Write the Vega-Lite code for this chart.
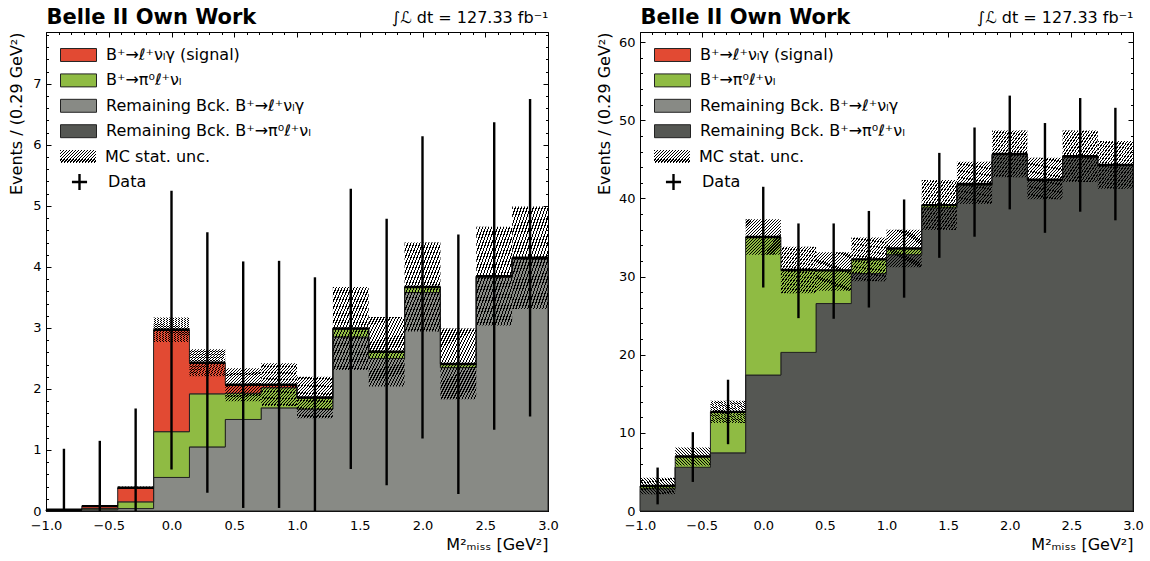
{
  "$schema": "https://vega.github.io/schema/vega-lite/v6.json",
  "padding": {"left": 8, "top": 6, "right": 4, "bottom": 4},
  "spacing": 37,
  "config": {
    "font": "DejaVu Sans",
    "view": {"stroke": null},
    "axis": {"grid": false, "labelColor": "#000", "titleColor": "#000", "tickColor": "#000", "domainColor": "#000", "titleFontWeight": "normal", "labelFont": "DejaVu Sans", "titleFont": "DejaVu Sans", "labelFlush": false, "labelOverlap": false},
    "legend": {"orient": "none", "padding": 0, "title": null, "labelFont": "DejaVu Sans", "labelFontSize": 16, "labelColor": "#000", "labelOffset": 9, "labelLimit": 500, "symbolSize": 1296, "symbolOpacity": 1, "clipHeight": 20, "rowPadding": 5.4}
  },
  "datasets": {
    "compL": [
      {"k":"rbg","o":1,"x":-1,"v":0.02},{"k":"rbg","o":1,"x":-0.7143,"v":0.02},{"k":"rbg","o":1,"x":-0.4286,"v":0.04},{"k":"rbg","o":1,"x":-0.1429,"v":0.55},{"k":"rbg","o":1,"x":0.1429,"v":1.05},{"k":"rbg","o":1,"x":0.4286,"v":1.5},{"k":"rbg","o":1,"x":0.7143,"v":1.69},{"k":"rbg","o":1,"x":1,"v":1.67},{"k":"rbg","o":1,"x":1.2857,"v":2.85},{"k":"rbg","o":1,"x":1.5714,"v":2.5},{"k":"rbg","o":1,"x":1.8571,"v":3.58},{"k":"rbg","o":1,"x":2.1429,"v":2.35},{"k":"rbg","o":1,"x":2.4286,"v":3.83},{"k":"rbg","o":1,"x":2.7143,"v":4.13},{"k":"rbg","o":1,"x":3,"v":4.13},
      {"k":"pi0","o":2,"x":-1,"v":0},{"k":"pi0","o":2,"x":-0.7143,"v":0.02},{"k":"pi0","o":2,"x":-0.4286,"v":0.11},{"k":"pi0","o":2,"x":-0.1429,"v":0.75},{"k":"pi0","o":2,"x":0.1429,"v":0.87},{"k":"pi0","o":2,"x":0.4286,"v":0.43},{"k":"pi0","o":2,"x":0.7143,"v":0.33},{"k":"pi0","o":2,"x":1,"v":0.18},{"k":"pi0","o":2,"x":1.2857,"v":0.14},{"k":"pi0","o":2,"x":1.5714,"v":0.11},{"k":"pi0","o":2,"x":1.8571,"v":0.09},{"k":"pi0","o":2,"x":2.1429,"v":0.06},{"k":"pi0","o":2,"x":2.4286,"v":0.02},{"k":"pi0","o":2,"x":2.7143,"v":0.02},{"k":"pi0","o":2,"x":3,"v":0.02},
      {"k":"sig","o":3,"x":-1,"v":0},{"k":"sig","o":3,"x":-0.7143,"v":0.04},{"k":"sig","o":3,"x":-0.4286,"v":0.23},{"k":"sig","o":3,"x":-0.1429,"v":1.67},{"k":"sig","o":3,"x":0.1429,"v":0.51},{"k":"sig","o":3,"x":0.4286,"v":0.14},{"k":"sig","o":3,"x":0.7143,"v":0.05},{"k":"sig","o":3,"x":1,"v":0.01},{"k":"sig","o":3,"x":1.2857,"v":0},{"k":"sig","o":3,"x":1.5714,"v":0},{"k":"sig","o":3,"x":1.8571,"v":0},{"k":"sig","o":3,"x":2.1429,"v":0},{"k":"sig","o":3,"x":2.4286,"v":0},{"k":"sig","o":3,"x":2.7143,"v":0},{"k":"sig","o":3,"x":3,"v":0}
    ],
    "compR": [
      {"k":"rbp","o":1,"x":-1,"v":2.85},{"k":"rbp","o":1,"x":-0.7143,"v":5.6},{"k":"rbp","o":1,"x":-0.4286,"v":7.44},{"k":"rbp","o":1,"x":-0.1429,"v":17.4},{"k":"rbp","o":1,"x":0.1429,"v":20.3},{"k":"rbp","o":1,"x":0.4286,"v":26.55},{"k":"rbp","o":1,"x":0.7143,"v":30.38},{"k":"rbp","o":1,"x":1,"v":32.8},{"k":"rbp","o":1,"x":1.2857,"v":38.8},{"k":"rbp","o":1,"x":1.5714,"v":41.7},{"k":"rbp","o":1,"x":1.8571,"v":45.6},{"k":"rbp","o":1,"x":2.1429,"v":42.3},{"k":"rbp","o":1,"x":2.4286,"v":45.3},{"k":"rbp","o":1,"x":2.7143,"v":44.2},{"k":"rbp","o":1,"x":3,"v":44.2},
      {"k":"pi0","o":2,"x":-1,"v":0.35},{"k":"pi0","o":2,"x":-0.7143,"v":1.37},{"k":"pi0","o":2,"x":-0.4286,"v":5.25},{"k":"pi0","o":2,"x":-0.1429,"v":17.66},{"k":"pi0","o":2,"x":0.1429,"v":10.55},{"k":"pi0","o":2,"x":0.4286,"v":4.25},{"k":"pi0","o":2,"x":0.7143,"v":1.82},{"k":"pi0","o":2,"x":1,"v":0.8},{"k":"pi0","o":2,"x":1.2857,"v":0.35},{"k":"pi0","o":2,"x":1.5714,"v":0.15},{"k":"pi0","o":2,"x":1.8571,"v":0.1},{"k":"pi0","o":2,"x":2.1429,"v":0.1},{"k":"pi0","o":2,"x":2.4286,"v":0.1},{"k":"pi0","o":2,"x":2.7143,"v":0.1},{"k":"pi0","o":2,"x":3,"v":0.1}
    ],
    "binsL": [
      {"lo":-1,"hi":-0.7143,"c":-0.8571,"ulo":0.01,"uhi":0.03,"d":0.02,"dlo":-0.98,"dhi":1.02},
      {"lo":-0.7143,"hi":-0.4286,"c":-0.5714,"ulo":0.07,"uhi":0.09,"d":0.08,"dlo":-0.99,"dhi":1.15},
      {"lo":-0.4286,"hi":-0.1429,"c":-0.2857,"ulo":0.36,"uhi":0.4,"d":0.38,"dlo":-0.92,"dhi":1.68},
      {"lo":-0.1429,"hi":0.1429,"c":0,"ulo":2.77,"uhi":3.17,"d":2.97,"dlo":0.68,"dhi":5.25},
      {"lo":0.1429,"hi":0.4286,"c":0.2857,"ulo":2.21,"uhi":2.65,"d":2.43,"dlo":0.3,"dhi":4.57},
      {"lo":0.4286,"hi":0.7143,"c":0.5714,"ulo":1.8,"uhi":2.34,"d":2.07,"dlo":0.05,"dhi":4.09},
      {"lo":0.7143,"hi":1,"c":0.8571,"ulo":1.72,"uhi":2.42,"d":2.07,"dlo":0.05,"dhi":4.1},
      {"lo":1,"hi":1.2857,"c":1.1429,"ulo":1.52,"uhi":2.2,"d":1.86,"dlo":-0.11,"dhi":3.83},
      {"lo":1.2857,"hi":1.5714,"c":1.4286,"ulo":2.31,"uhi":3.67,"d":2.99,"dlo":0.69,"dhi":5.28},
      {"lo":1.5714,"hi":1.8571,"c":1.7143,"ulo":2.04,"uhi":3.18,"d":2.61,"dlo":0.42,"dhi":4.79},
      {"lo":1.8571,"hi":2.1429,"c":2,"ulo":2.94,"uhi":4.4,"d":3.67,"dlo":1.19,"dhi":6.14},
      {"lo":2.1429,"hi":2.4286,"c":2.2857,"ulo":1.83,"uhi":2.99,"d":2.41,"dlo":0.28,"dhi":4.53},
      {"lo":2.4286,"hi":2.7143,"c":2.5714,"ulo":3.04,"uhi":4.66,"d":3.85,"dlo":1.33,"dhi":6.37},
      {"lo":2.7143,"hi":3,"c":2.8571,"ulo":3.31,"uhi":4.99,"d":4.15,"dlo":1.55,"dhi":6.75}
    ],
    "binsR": [
      {"lo":-1,"hi":-0.7143,"c":-0.8571,"ulo":2.13,"uhi":4.27,"d":3.2,"dlo":0.85,"dhi":5.56},
      {"lo":-0.7143,"hi":-0.4286,"c":-0.5714,"ulo":5.82,"uhi":8.12,"d":6.97,"dlo":3.72,"dhi":10.09},
      {"lo":-0.4286,"hi":-0.1429,"c":-0.2857,"ulo":11.27,"uhi":14.11,"d":12.69,"dlo":8.55,"dhi":16.8},
      {"lo":-0.1429,"hi":0.1429,"c":0,"ulo":32.79,"uhi":37.33,"d":35.06,"dlo":28.6,"dhi":41.49},
      {"lo":0.1429,"hi":0.4286,"c":0.2857,"ulo":27.87,"uhi":33.83,"d":30.85,"dlo":24.68,"dhi":36.8},
      {"lo":0.4286,"hi":0.7143,"c":0.5714,"ulo":28.2,"uhi":33.1,"d":30.8,"dlo":24.6,"dhi":36.8},
      {"lo":0.7143,"hi":1,"c":0.8571,"ulo":29.4,"uhi":35,"d":32.2,"dlo":26.04,"dhi":38.4},
      {"lo":1,"hi":1.2857,"c":1.1429,"ulo":31.2,"uhi":36,"d":33.6,"dlo":27.3,"dhi":39.87},
      {"lo":1.2857,"hi":1.5714,"c":1.4286,"ulo":35.95,"uhi":42.35,"d":39.15,"dlo":32.4,"dhi":45.83},
      {"lo":1.5714,"hi":1.8571,"c":1.7143,"ulo":39.3,"uhi":44.7,"d":41.85,"dlo":35.1,"dhi":49.08},
      {"lo":1.8571,"hi":2.1429,"c":2,"ulo":42.7,"uhi":48.7,"d":45.7,"dlo":38.6,"dhi":53.16},
      {"lo":2.1429,"hi":2.4286,"c":2.2857,"ulo":39.9,"uhi":45.2,"d":42.4,"dlo":35.6,"dhi":49.65},
      {"lo":2.4286,"hi":2.7143,"c":2.5714,"ulo":42.1,"uhi":48.7,"d":45.4,"dlo":38.3,"dhi":52.85},
      {"lo":2.7143,"hi":3,"c":2.8571,"ulo":41.25,"uhi":47.35,"d":44.3,"dlo":37.2,"dhi":51.6}
    ]
  },
  "resolve": {"scale": {"x": "independent", "y": "independent", "fill": "independent", "shape": "independent"}, "legend": {"fill": "independent", "shape": "independent"}},
  "hconcat": [
    {
      "width": 502,
      "height": 479,
      "resolve": {"axis": {"x": "independent", "y": "independent"}, "scale": {"shape": "independent"}, "legend": {"shape": "independent"}},
      "layer": [
        {
          "data": {"name": "compL"},
          "mark": {"type": "area", "interpolate": "step-after", "stroke": "#222", "strokeWidth": 1, "opacity": 1, "fillOpacity": 1},
          "encoding": {
            "x": {"field": "x", "type": "quantitative", "scale": {"domain": [-1, 3], "nice": false, "zero": false},
              "axis": {"orient": "bottom", "values": [-1, -0.5, 0, 0.5, 1, 1.5, 2, 2.5, 3], "format": ".1f", "tickSize": -5, "tickWidth": 1, "labelPadding": 13, "labelFontSize": 13, "domainWidth": 1, "title": "M²ₘᵢₛₛ [GeV²]", "titleAnchor": "end", "titleFontSize": 16, "titlePadding": 4}},
            "y": {"field": "v", "type": "quantitative", "stack": "zero", "scale": {"domain": [0, 7.85], "nice": false},
              "axis": {"orient": "left", "values": [0, 1, 2, 3, 4, 5, 6, 7], "format": "d", "tickSize": -5, "tickWidth": 1, "labelPadding": 10, "labelFontSize": 13, "domainWidth": 1, "title": "Events / (0.29 GeV²)", "titleAnchor": "end", "titleFontSize": 16, "titlePadding": 8}},
            "fill": {"field": "k", "type": "nominal",
              "scale": {"domain": ["sig", "pi0", "rbg", "rbp"], "range": ["#e24a33", "#8fbb43", "#888a85", "#555753"]},
              "legend": {
                "legendX": 14, "legendY": 13,
                "labelExpr": "datum.value == 'sig' ? 'B⁺→ℓ⁺νₗγ (signal)' : datum.value == 'pi0' ? 'B⁺→π⁰ℓ⁺νₗ' : datum.value == 'rbg' ? 'Remaining Bck. B⁺→ℓ⁺νₗγ' : 'Remaining Bck. B⁺→π⁰ℓ⁺νₗ'",
                "symbolType": "M-1,-0.36H1V0.36H-1Z", "symbolStrokeColor": "#222", "symbolStrokeWidth": 1
              }},
            "order": {"field": "o", "type": "quantitative"}
          }
        },
        {
          "data": {"name": "binsL"},
          "mark": {"type": "rect", "strokeWidth": 0, "fill": {"gradient": "linear", "x1": 0, "y1": 0, "x2": 1, "y2": 1, "stops": [
            {"offset":0,"color":"#000"},{"offset":0.0167,"color":"#000"},{"offset":0.0167,"color":"rgba(0,0,0,0)"},{"offset":0.0417,"color":"rgba(0,0,0,0)"},
            {"offset":0.0417,"color":"#000"},{"offset":0.0583,"color":"#000"},{"offset":0.0583,"color":"rgba(0,0,0,0)"},{"offset":0.0833,"color":"rgba(0,0,0,0)"},
            {"offset":0.0833,"color":"#000"},{"offset":0.1,"color":"#000"},{"offset":0.1,"color":"rgba(0,0,0,0)"},{"offset":0.125,"color":"rgba(0,0,0,0)"},
            {"offset":0.125,"color":"#000"},{"offset":0.1417,"color":"#000"},{"offset":0.1417,"color":"rgba(0,0,0,0)"},{"offset":0.1667,"color":"rgba(0,0,0,0)"},
            {"offset":0.1667,"color":"#000"},{"offset":0.1833,"color":"#000"},{"offset":0.1833,"color":"rgba(0,0,0,0)"},{"offset":0.2083,"color":"rgba(0,0,0,0)"},
            {"offset":0.2083,"color":"#000"},{"offset":0.225,"color":"#000"},{"offset":0.225,"color":"rgba(0,0,0,0)"},{"offset":0.25,"color":"rgba(0,0,0,0)"},
            {"offset":0.25,"color":"#000"},{"offset":0.2667,"color":"#000"},{"offset":0.2667,"color":"rgba(0,0,0,0)"},{"offset":0.2917,"color":"rgba(0,0,0,0)"},
            {"offset":0.2917,"color":"#000"},{"offset":0.3083,"color":"#000"},{"offset":0.3083,"color":"rgba(0,0,0,0)"},{"offset":0.3333,"color":"rgba(0,0,0,0)"},
            {"offset":0.3333,"color":"#000"},{"offset":0.35,"color":"#000"},{"offset":0.35,"color":"rgba(0,0,0,0)"},{"offset":0.375,"color":"rgba(0,0,0,0)"},
            {"offset":0.375,"color":"#000"},{"offset":0.3917,"color":"#000"},{"offset":0.3917,"color":"rgba(0,0,0,0)"},{"offset":0.4167,"color":"rgba(0,0,0,0)"},
            {"offset":0.4167,"color":"#000"},{"offset":0.4333,"color":"#000"},{"offset":0.4333,"color":"rgba(0,0,0,0)"},{"offset":0.4583,"color":"rgba(0,0,0,0)"},
            {"offset":0.4583,"color":"#000"},{"offset":0.475,"color":"#000"},{"offset":0.475,"color":"rgba(0,0,0,0)"},{"offset":0.5,"color":"rgba(0,0,0,0)"},
            {"offset":0.5,"color":"#000"},{"offset":0.5167,"color":"#000"},{"offset":0.5167,"color":"rgba(0,0,0,0)"},{"offset":0.5417,"color":"rgba(0,0,0,0)"},
            {"offset":0.5417,"color":"#000"},{"offset":0.5583,"color":"#000"},{"offset":0.5583,"color":"rgba(0,0,0,0)"},{"offset":0.5833,"color":"rgba(0,0,0,0)"},
            {"offset":0.5833,"color":"#000"},{"offset":0.6,"color":"#000"},{"offset":0.6,"color":"rgba(0,0,0,0)"},{"offset":0.625,"color":"rgba(0,0,0,0)"},
            {"offset":0.625,"color":"#000"},{"offset":0.6417,"color":"#000"},{"offset":0.6417,"color":"rgba(0,0,0,0)"},{"offset":0.6667,"color":"rgba(0,0,0,0)"},
            {"offset":0.6667,"color":"#000"},{"offset":0.6833,"color":"#000"},{"offset":0.6833,"color":"rgba(0,0,0,0)"},{"offset":0.7083,"color":"rgba(0,0,0,0)"},
            {"offset":0.7083,"color":"#000"},{"offset":0.725,"color":"#000"},{"offset":0.725,"color":"rgba(0,0,0,0)"},{"offset":0.75,"color":"rgba(0,0,0,0)"},
            {"offset":0.75,"color":"#000"},{"offset":0.7667,"color":"#000"},{"offset":0.7667,"color":"rgba(0,0,0,0)"},{"offset":0.7917,"color":"rgba(0,0,0,0)"},
            {"offset":0.7917,"color":"#000"},{"offset":0.8083,"color":"#000"},{"offset":0.8083,"color":"rgba(0,0,0,0)"},{"offset":0.8333,"color":"rgba(0,0,0,0)"},
            {"offset":0.8333,"color":"#000"},{"offset":0.85,"color":"#000"},{"offset":0.85,"color":"rgba(0,0,0,0)"},{"offset":0.875,"color":"rgba(0,0,0,0)"},
            {"offset":0.875,"color":"#000"},{"offset":0.8917,"color":"#000"},{"offset":0.8917,"color":"rgba(0,0,0,0)"},{"offset":0.9167,"color":"rgba(0,0,0,0)"},
            {"offset":0.9167,"color":"#000"},{"offset":0.9333,"color":"#000"},{"offset":0.9333,"color":"rgba(0,0,0,0)"},{"offset":0.9583,"color":"rgba(0,0,0,0)"},
            {"offset":0.9583,"color":"#000"},{"offset":0.975,"color":"#000"},{"offset":0.975,"color":"rgba(0,0,0,0)"},{"offset":1,"color":"rgba(0,0,0,0)"}
          ]}},
          "encoding": {
            "x": {"field": "lo", "type": "quantitative", "scale": {"domain": [-1, 3], "nice": false, "zero": false},
              "axis": {"orient": "bottom", "values": [-1,-0.9,-0.8,-0.7,-0.6,-0.5,-0.4,-0.3,-0.2,-0.1,0,0.1,0.2,0.3,0.4,0.5,0.6,0.7,0.8,0.9,1,1.1,1.2,1.3,1.4,1.5,1.6,1.7,1.8,1.9,2,2.1,2.2,2.3,2.4,2.5,2.6,2.7,2.8,2.9,3], "tickSize": -2.5, "tickWidth": 1, "labels": false, "domain": false, "title": null}},
            "x2": {"field": "hi"},
            "y": {"field": "ulo", "type": "quantitative", "scale": {"domain": [0, 7.85], "nice": false},
              "axis": {"orient": "left", "values": [0,0.2,0.4,0.6,0.8,1,1.2,1.4,1.6,1.8,2,2.2,2.4,2.6,2.8,3,3.2,3.4,3.6,3.8,4,4.2,4.4,4.6,4.8,5,5.2,5.4,5.6,5.8,6,6.2,6.4,6.6,6.8,7,7.2,7.4,7.6,7.8], "tickSize": -2.5, "tickWidth": 1, "labels": false, "domain": false, "title": null}},
            "y2": {"field": "uhi"}
          }
        },
        {
          "data": {"name": "binsL"},
          "mark": {"type": "rule", "color": "#000", "strokeWidth": 2.4, "clip": true},
          "encoding": {
            "x": {"field": "lo", "type": "quantitative", "scale": {"domain": [-1, 3], "nice": false, "zero": false},
              "axis": {"orient": "top", "values": [-1, -0.5, 0, 0.5, 1, 1.5, 2, 2.5, 3], "tickSize": -5, "tickWidth": 1, "labels": false, "domain": true, "domainWidth": 1, "title": "Belle II Own Work", "titleAnchor": "start", "titleFontSize": 21, "titleFontWeight": "bold", "titleBaseline": "alphabetic", "titlePadding": 8}},
            "x2": {"field": "hi"},
            "y": {"field": "d", "type": "quantitative", "scale": {"domain": [0, 7.85], "nice": false},
              "axis": {"orient": "right", "values": [0, 1, 2, 3, 4, 5, 6, 7], "tickSize": -5, "tickWidth": 1, "labels": false, "domain": true, "domainWidth": 1, "title": null}}
          }
        },
        {
          "data": {"name": "binsL"},
          "mark": {"type": "rule", "color": "#000", "strokeWidth": 2.4, "clip": true},
          "encoding": {
            "x": {"field": "c", "type": "quantitative", "scale": {"domain": [-1, 3], "nice": false, "zero": false},
              "axis": {"orient": "top", "values": [-1,-0.9,-0.8,-0.7,-0.6,-0.5,-0.4,-0.3,-0.2,-0.1,0,0.1,0.2,0.3,0.4,0.5,0.6,0.7,0.8,0.9,1,1.1,1.2,1.3,1.4,1.5,1.6,1.7,1.8,1.9,2,2.1,2.2,2.3,2.4,2.5,2.6,2.7,2.8,2.9,3], "tickSize": -2.5, "tickWidth": 1, "labels": false, "domain": false, "title": "∫ℒ dt = 127.33 fb⁻¹", "titleAnchor": "end", "titleFontSize": 16, "titleBaseline": "alphabetic", "titlePadding": 9}},
            "y": {"field": "dlo", "type": "quantitative", "scale": {"domain": [0, 7.85], "nice": false},
              "axis": {"orient": "right", "values": [0,0.2,0.4,0.6,0.8,1,1.2,1.4,1.6,1.8,2,2.2,2.4,2.6,2.8,3,3.2,3.4,3.6,3.8,4,4.2,4.4,4.6,4.8,5,5.2,5.4,5.6,5.8,6,6.2,6.4,6.6,6.8,7,7.2,7.4,7.6,7.8], "tickSize": -2.5, "tickWidth": 1, "labels": false, "domain": false, "title": null}},
            "y2": {"field": "dhi"}
          }
        },
        {
          "data": {"name": "binsL"},
          "mark": {"type": "point", "filled": true, "opacity": 0, "strokeWidth": 0, "fill": {"gradient": "linear", "x1": 0, "y1": 0, "x2": 1.2, "y2": 0.4, "stops": [
            {"offset":0,"color":"#000"},{"offset":0.025,"color":"#000"},{"offset":0.025,"color":"rgba(0,0,0,0)"},{"offset":0.0625,"color":"rgba(0,0,0,0)"},
            {"offset":0.0625,"color":"#000"},{"offset":0.0875,"color":"#000"},{"offset":0.0875,"color":"rgba(0,0,0,0)"},{"offset":0.125,"color":"rgba(0,0,0,0)"},
            {"offset":0.125,"color":"#000"},{"offset":0.15,"color":"#000"},{"offset":0.15,"color":"rgba(0,0,0,0)"},{"offset":0.1875,"color":"rgba(0,0,0,0)"},
            {"offset":0.1875,"color":"#000"},{"offset":0.2125,"color":"#000"},{"offset":0.2125,"color":"rgba(0,0,0,0)"},{"offset":0.25,"color":"rgba(0,0,0,0)"},
            {"offset":0.25,"color":"#000"},{"offset":0.275,"color":"#000"},{"offset":0.275,"color":"rgba(0,0,0,0)"},{"offset":0.3125,"color":"rgba(0,0,0,0)"},
            {"offset":0.3125,"color":"#000"},{"offset":0.3375,"color":"#000"},{"offset":0.3375,"color":"rgba(0,0,0,0)"},{"offset":0.375,"color":"rgba(0,0,0,0)"},
            {"offset":0.375,"color":"#000"},{"offset":0.4,"color":"#000"},{"offset":0.4,"color":"rgba(0,0,0,0)"},{"offset":0.4375,"color":"rgba(0,0,0,0)"},
            {"offset":0.4375,"color":"#000"},{"offset":0.4625,"color":"#000"},{"offset":0.4625,"color":"rgba(0,0,0,0)"},{"offset":0.5,"color":"rgba(0,0,0,0)"},
            {"offset":0.5,"color":"#000"},{"offset":0.525,"color":"#000"},{"offset":0.525,"color":"rgba(0,0,0,0)"},{"offset":0.5625,"color":"rgba(0,0,0,0)"},
            {"offset":0.5625,"color":"#000"},{"offset":0.5875,"color":"#000"},{"offset":0.5875,"color":"rgba(0,0,0,0)"},{"offset":0.625,"color":"rgba(0,0,0,0)"},
            {"offset":0.625,"color":"#000"},{"offset":0.65,"color":"#000"},{"offset":0.65,"color":"rgba(0,0,0,0)"},{"offset":0.6875,"color":"rgba(0,0,0,0)"},
            {"offset":0.6875,"color":"#000"},{"offset":0.7125,"color":"#000"},{"offset":0.7125,"color":"rgba(0,0,0,0)"},{"offset":0.75,"color":"rgba(0,0,0,0)"},
            {"offset":0.75,"color":"#000"},{"offset":0.775,"color":"#000"},{"offset":0.775,"color":"rgba(0,0,0,0)"},{"offset":0.8125,"color":"rgba(0,0,0,0)"},
            {"offset":0.8125,"color":"#000"},{"offset":0.8375,"color":"#000"},{"offset":0.8375,"color":"rgba(0,0,0,0)"},{"offset":0.875,"color":"rgba(0,0,0,0)"},
            {"offset":0.875,"color":"#000"},{"offset":0.9,"color":"#000"},{"offset":0.9,"color":"rgba(0,0,0,0)"},{"offset":0.9375,"color":"rgba(0,0,0,0)"},
            {"offset":0.9375,"color":"#000"},{"offset":0.9625,"color":"#000"},{"offset":0.9625,"color":"rgba(0,0,0,0)"},{"offset":1,"color":"rgba(0,0,0,0)"}
          ]}},
          "encoding": {
            "x": {"field": "c", "type": "quantitative", "scale": {"domain": [-1, 3], "nice": false, "zero": false}, "axis": null},
            "y": {"field": "d", "type": "quantitative", "scale": {"domain": [0, 7.85], "nice": false}, "axis": null},
            "shape": {"datum": "MC stat. unc.", "type": "nominal", "scale": {"range": ["M-1,-0.36H1V0.36H-1Z"]},
              "legend": {"legendX": 14, "legendY": 114.6, "symbolStrokeColor": "transparent", "symbolStrokeWidth": 0}}
          }
        },
        {
          "data": {"name": "binsL"},
          "mark": {"type": "point", "filled": false, "opacity": 1, "stroke": "#000", "strokeWidth": 2.4, "size": 12},
          "encoding": {
            "x": {"field": "c", "type": "quantitative", "scale": {"domain": [-1, 3], "nice": false, "zero": false}, "axis": null},
            "y": {"field": "d", "type": "quantitative", "scale": {"domain": [0, 7.85], "nice": false}, "axis": null},
            "shape": {"datum": "Data", "type": "nominal", "scale": {"range": ["M-0.42,0H0.42M0,-0.45V0.45"]},
              "legend": {"legendX": 14, "legendY": 140, "symbolStrokeColor": "#000", "symbolStrokeWidth": 2.4, "symbolFillColor": "transparent"}}
          }
        }
      ]
    },
    {
      "width": 493,
      "height": 479,
      "resolve": {"axis": {"x": "independent", "y": "independent"}, "scale": {"shape": "independent"}, "legend": {"shape": "independent"}},
      "layer": [
        {
          "data": {"name": "compR"},
          "mark": {"type": "area", "interpolate": "step-after", "stroke": "#222", "strokeWidth": 1, "opacity": 1, "fillOpacity": 1},
          "encoding": {
            "x": {"field": "x", "type": "quantitative", "scale": {"domain": [-1, 3], "nice": false, "zero": false},
              "axis": {"orient": "bottom", "values": [-1, -0.5, 0, 0.5, 1, 1.5, 2, 2.5, 3], "format": ".1f", "tickSize": -5, "tickWidth": 1, "labelPadding": 13, "labelFontSize": 13, "domainWidth": 1, "title": "M²ₘᵢₛₛ [GeV²]", "titleAnchor": "end", "titleFontSize": 16, "titlePadding": 4}},
            "y": {"field": "v", "type": "quantitative", "stack": "zero", "scale": {"domain": [0, 61.3], "nice": false},
              "axis": {"orient": "left", "values": [0, 10, 20, 30, 40, 50, 60], "format": "d", "tickSize": -5, "tickWidth": 1, "labelPadding": 10, "labelFontSize": 13, "domainWidth": 1, "title": "Events / (0.29 GeV²)", "titleAnchor": "end", "titleFontSize": 16, "titlePadding": 6}},
            "fill": {"field": "k", "type": "nominal",
              "scale": {"domain": ["sig", "pi0", "rbg", "rbp"], "range": ["#e24a33", "#8fbb43", "#888a85", "#555753"]},
              "legend": {
                "legendX": 14, "legendY": 13,
                "labelExpr": "datum.value == 'sig' ? 'B⁺→ℓ⁺νₗγ (signal)' : datum.value == 'pi0' ? 'B⁺→π⁰ℓ⁺νₗ' : datum.value == 'rbg' ? 'Remaining Bck. B⁺→ℓ⁺νₗγ' : 'Remaining Bck. B⁺→π⁰ℓ⁺νₗ'",
                "symbolType": "M-1,-0.36H1V0.36H-1Z", "symbolStrokeColor": "#222", "symbolStrokeWidth": 1
              }},
            "order": {"field": "o", "type": "quantitative"}
          }
        },
        {
          "data": {"name": "binsR"},
          "mark": {"type": "rect", "strokeWidth": 0, "fill": {"gradient": "linear", "x1": 0, "y1": 0, "x2": 1, "y2": 1, "stops": [
            {"offset":0,"color":"#000"},{"offset":0.0167,"color":"#000"},{"offset":0.0167,"color":"rgba(0,0,0,0)"},{"offset":0.0417,"color":"rgba(0,0,0,0)"},
            {"offset":0.0417,"color":"#000"},{"offset":0.0583,"color":"#000"},{"offset":0.0583,"color":"rgba(0,0,0,0)"},{"offset":0.0833,"color":"rgba(0,0,0,0)"},
            {"offset":0.0833,"color":"#000"},{"offset":0.1,"color":"#000"},{"offset":0.1,"color":"rgba(0,0,0,0)"},{"offset":0.125,"color":"rgba(0,0,0,0)"},
            {"offset":0.125,"color":"#000"},{"offset":0.1417,"color":"#000"},{"offset":0.1417,"color":"rgba(0,0,0,0)"},{"offset":0.1667,"color":"rgba(0,0,0,0)"},
            {"offset":0.1667,"color":"#000"},{"offset":0.1833,"color":"#000"},{"offset":0.1833,"color":"rgba(0,0,0,0)"},{"offset":0.2083,"color":"rgba(0,0,0,0)"},
            {"offset":0.2083,"color":"#000"},{"offset":0.225,"color":"#000"},{"offset":0.225,"color":"rgba(0,0,0,0)"},{"offset":0.25,"color":"rgba(0,0,0,0)"},
            {"offset":0.25,"color":"#000"},{"offset":0.2667,"color":"#000"},{"offset":0.2667,"color":"rgba(0,0,0,0)"},{"offset":0.2917,"color":"rgba(0,0,0,0)"},
            {"offset":0.2917,"color":"#000"},{"offset":0.3083,"color":"#000"},{"offset":0.3083,"color":"rgba(0,0,0,0)"},{"offset":0.3333,"color":"rgba(0,0,0,0)"},
            {"offset":0.3333,"color":"#000"},{"offset":0.35,"color":"#000"},{"offset":0.35,"color":"rgba(0,0,0,0)"},{"offset":0.375,"color":"rgba(0,0,0,0)"},
            {"offset":0.375,"color":"#000"},{"offset":0.3917,"color":"#000"},{"offset":0.3917,"color":"rgba(0,0,0,0)"},{"offset":0.4167,"color":"rgba(0,0,0,0)"},
            {"offset":0.4167,"color":"#000"},{"offset":0.4333,"color":"#000"},{"offset":0.4333,"color":"rgba(0,0,0,0)"},{"offset":0.4583,"color":"rgba(0,0,0,0)"},
            {"offset":0.4583,"color":"#000"},{"offset":0.475,"color":"#000"},{"offset":0.475,"color":"rgba(0,0,0,0)"},{"offset":0.5,"color":"rgba(0,0,0,0)"},
            {"offset":0.5,"color":"#000"},{"offset":0.5167,"color":"#000"},{"offset":0.5167,"color":"rgba(0,0,0,0)"},{"offset":0.5417,"color":"rgba(0,0,0,0)"},
            {"offset":0.5417,"color":"#000"},{"offset":0.5583,"color":"#000"},{"offset":0.5583,"color":"rgba(0,0,0,0)"},{"offset":0.5833,"color":"rgba(0,0,0,0)"},
            {"offset":0.5833,"color":"#000"},{"offset":0.6,"color":"#000"},{"offset":0.6,"color":"rgba(0,0,0,0)"},{"offset":0.625,"color":"rgba(0,0,0,0)"},
            {"offset":0.625,"color":"#000"},{"offset":0.6417,"color":"#000"},{"offset":0.6417,"color":"rgba(0,0,0,0)"},{"offset":0.6667,"color":"rgba(0,0,0,0)"},
            {"offset":0.6667,"color":"#000"},{"offset":0.6833,"color":"#000"},{"offset":0.6833,"color":"rgba(0,0,0,0)"},{"offset":0.7083,"color":"rgba(0,0,0,0)"},
            {"offset":0.7083,"color":"#000"},{"offset":0.725,"color":"#000"},{"offset":0.725,"color":"rgba(0,0,0,0)"},{"offset":0.75,"color":"rgba(0,0,0,0)"},
            {"offset":0.75,"color":"#000"},{"offset":0.7667,"color":"#000"},{"offset":0.7667,"color":"rgba(0,0,0,0)"},{"offset":0.7917,"color":"rgba(0,0,0,0)"},
            {"offset":0.7917,"color":"#000"},{"offset":0.8083,"color":"#000"},{"offset":0.8083,"color":"rgba(0,0,0,0)"},{"offset":0.8333,"color":"rgba(0,0,0,0)"},
            {"offset":0.8333,"color":"#000"},{"offset":0.85,"color":"#000"},{"offset":0.85,"color":"rgba(0,0,0,0)"},{"offset":0.875,"color":"rgba(0,0,0,0)"},
            {"offset":0.875,"color":"#000"},{"offset":0.8917,"color":"#000"},{"offset":0.8917,"color":"rgba(0,0,0,0)"},{"offset":0.9167,"color":"rgba(0,0,0,0)"},
            {"offset":0.9167,"color":"#000"},{"offset":0.9333,"color":"#000"},{"offset":0.9333,"color":"rgba(0,0,0,0)"},{"offset":0.9583,"color":"rgba(0,0,0,0)"},
            {"offset":0.9583,"color":"#000"},{"offset":0.975,"color":"#000"},{"offset":0.975,"color":"rgba(0,0,0,0)"},{"offset":1,"color":"rgba(0,0,0,0)"}
          ]}},
          "encoding": {
            "x": {"field": "lo", "type": "quantitative", "scale": {"domain": [-1, 3], "nice": false, "zero": false},
              "axis": {"orient": "bottom", "values": [-1,-0.9,-0.8,-0.7,-0.6,-0.5,-0.4,-0.3,-0.2,-0.1,0,0.1,0.2,0.3,0.4,0.5,0.6,0.7,0.8,0.9,1,1.1,1.2,1.3,1.4,1.5,1.6,1.7,1.8,1.9,2,2.1,2.2,2.3,2.4,2.5,2.6,2.7,2.8,2.9,3], "tickSize": -2.5, "tickWidth": 1, "labels": false, "domain": false, "title": null}},
            "x2": {"field": "hi"},
            "y": {"field": "ulo", "type": "quantitative", "scale": {"domain": [0, 61.3], "nice": false},
              "axis": {"orient": "left", "values": [0,2,4,6,8,10,12,14,16,18,20,22,24,26,28,30,32,34,36,38,40,42,44,46,48,50,52,54,56,58,60], "tickSize": -2.5, "tickWidth": 1, "labels": false, "domain": false, "title": null}},
            "y2": {"field": "uhi"}
          }
        },
        {
          "data": {"name": "binsR"},
          "mark": {"type": "rule", "color": "#000", "strokeWidth": 2.4, "clip": true},
          "encoding": {
            "x": {"field": "lo", "type": "quantitative", "scale": {"domain": [-1, 3], "nice": false, "zero": false},
              "axis": {"orient": "top", "values": [-1, -0.5, 0, 0.5, 1, 1.5, 2, 2.5, 3], "tickSize": -5, "tickWidth": 1, "labels": false, "domain": true, "domainWidth": 1, "title": "Belle II Own Work", "titleAnchor": "start", "titleFontSize": 21, "titleFontWeight": "bold", "titleBaseline": "alphabetic", "titlePadding": 8}},
            "x2": {"field": "hi"},
            "y": {"field": "d", "type": "quantitative", "scale": {"domain": [0, 61.3], "nice": false},
              "axis": {"orient": "right", "values": [0, 10, 20, 30, 40, 50, 60], "tickSize": -5, "tickWidth": 1, "labels": false, "domain": true, "domainWidth": 1, "title": null}}
          }
        },
        {
          "data": {"name": "binsR"},
          "mark": {"type": "rule", "color": "#000", "strokeWidth": 2.4, "clip": true},
          "encoding": {
            "x": {"field": "c", "type": "quantitative", "scale": {"domain": [-1, 3], "nice": false, "zero": false},
              "axis": {"orient": "top", "values": [-1,-0.9,-0.8,-0.7,-0.6,-0.5,-0.4,-0.3,-0.2,-0.1,0,0.1,0.2,0.3,0.4,0.5,0.6,0.7,0.8,0.9,1,1.1,1.2,1.3,1.4,1.5,1.6,1.7,1.8,1.9,2,2.1,2.2,2.3,2.4,2.5,2.6,2.7,2.8,2.9,3], "tickSize": -2.5, "tickWidth": 1, "labels": false, "domain": false, "title": "∫ℒ dt = 127.33 fb⁻¹", "titleAnchor": "end", "titleFontSize": 16, "titleBaseline": "alphabetic", "titlePadding": 9}},
            "y": {"field": "dlo", "type": "quantitative", "scale": {"domain": [0, 61.3], "nice": false},
              "axis": {"orient": "right", "values": [0,2,4,6,8,10,12,14,16,18,20,22,24,26,28,30,32,34,36,38,40,42,44,46,48,50,52,54,56,58,60], "tickSize": -2.5, "tickWidth": 1, "labels": false, "domain": false, "title": null}},
            "y2": {"field": "dhi"}
          }
        },
        {
          "data": {"name": "binsR"},
          "mark": {"type": "point", "filled": true, "opacity": 0, "strokeWidth": 0, "fill": {"gradient": "linear", "x1": 0, "y1": 0, "x2": 1.2, "y2": 0.4, "stops": [
            {"offset":0,"color":"#000"},{"offset":0.025,"color":"#000"},{"offset":0.025,"color":"rgba(0,0,0,0)"},{"offset":0.0625,"color":"rgba(0,0,0,0)"},
            {"offset":0.0625,"color":"#000"},{"offset":0.0875,"color":"#000"},{"offset":0.0875,"color":"rgba(0,0,0,0)"},{"offset":0.125,"color":"rgba(0,0,0,0)"},
            {"offset":0.125,"color":"#000"},{"offset":0.15,"color":"#000"},{"offset":0.15,"color":"rgba(0,0,0,0)"},{"offset":0.1875,"color":"rgba(0,0,0,0)"},
            {"offset":0.1875,"color":"#000"},{"offset":0.2125,"color":"#000"},{"offset":0.2125,"color":"rgba(0,0,0,0)"},{"offset":0.25,"color":"rgba(0,0,0,0)"},
            {"offset":0.25,"color":"#000"},{"offset":0.275,"color":"#000"},{"offset":0.275,"color":"rgba(0,0,0,0)"},{"offset":0.3125,"color":"rgba(0,0,0,0)"},
            {"offset":0.3125,"color":"#000"},{"offset":0.3375,"color":"#000"},{"offset":0.3375,"color":"rgba(0,0,0,0)"},{"offset":0.375,"color":"rgba(0,0,0,0)"},
            {"offset":0.375,"color":"#000"},{"offset":0.4,"color":"#000"},{"offset":0.4,"color":"rgba(0,0,0,0)"},{"offset":0.4375,"color":"rgba(0,0,0,0)"},
            {"offset":0.4375,"color":"#000"},{"offset":0.4625,"color":"#000"},{"offset":0.4625,"color":"rgba(0,0,0,0)"},{"offset":0.5,"color":"rgba(0,0,0,0)"},
            {"offset":0.5,"color":"#000"},{"offset":0.525,"color":"#000"},{"offset":0.525,"color":"rgba(0,0,0,0)"},{"offset":0.5625,"color":"rgba(0,0,0,0)"},
            {"offset":0.5625,"color":"#000"},{"offset":0.5875,"color":"#000"},{"offset":0.5875,"color":"rgba(0,0,0,0)"},{"offset":0.625,"color":"rgba(0,0,0,0)"},
            {"offset":0.625,"color":"#000"},{"offset":0.65,"color":"#000"},{"offset":0.65,"color":"rgba(0,0,0,0)"},{"offset":0.6875,"color":"rgba(0,0,0,0)"},
            {"offset":0.6875,"color":"#000"},{"offset":0.7125,"color":"#000"},{"offset":0.7125,"color":"rgba(0,0,0,0)"},{"offset":0.75,"color":"rgba(0,0,0,0)"},
            {"offset":0.75,"color":"#000"},{"offset":0.775,"color":"#000"},{"offset":0.775,"color":"rgba(0,0,0,0)"},{"offset":0.8125,"color":"rgba(0,0,0,0)"},
            {"offset":0.8125,"color":"#000"},{"offset":0.8375,"color":"#000"},{"offset":0.8375,"color":"rgba(0,0,0,0)"},{"offset":0.875,"color":"rgba(0,0,0,0)"},
            {"offset":0.875,"color":"#000"},{"offset":0.9,"color":"#000"},{"offset":0.9,"color":"rgba(0,0,0,0)"},{"offset":0.9375,"color":"rgba(0,0,0,0)"},
            {"offset":0.9375,"color":"#000"},{"offset":0.9625,"color":"#000"},{"offset":0.9625,"color":"rgba(0,0,0,0)"},{"offset":1,"color":"rgba(0,0,0,0)"}
          ]}},
          "encoding": {
            "x": {"field": "c", "type": "quantitative", "scale": {"domain": [-1, 3], "nice": false, "zero": false}, "axis": null},
            "y": {"field": "d", "type": "quantitative", "scale": {"domain": [0, 61.3], "nice": false}, "axis": null},
            "shape": {"datum": "MC stat. unc.", "type": "nominal", "scale": {"range": ["M-1,-0.36H1V0.36H-1Z"]},
              "legend": {"legendX": 14, "legendY": 114.6, "symbolStrokeColor": "transparent", "symbolStrokeWidth": 0}}
          }
        },
        {
          "data": {"name": "binsR"},
          "mark": {"type": "point", "filled": false, "opacity": 1, "stroke": "#000", "strokeWidth": 2.4, "size": 12},
          "encoding": {
            "x": {"field": "c", "type": "quantitative", "scale": {"domain": [-1, 3], "nice": false, "zero": false}, "axis": null},
            "y": {"field": "d", "type": "quantitative", "scale": {"domain": [0, 61.3], "nice": false}, "axis": null},
            "shape": {"datum": "Data", "type": "nominal", "scale": {"range": ["M-0.42,0H0.42M0,-0.45V0.45"]},
              "legend": {"legendX": 14, "legendY": 140, "symbolStrokeColor": "#000", "symbolStrokeWidth": 2.4, "symbolFillColor": "transparent"}}
          }
        }
      ]
    }
  ]
}
